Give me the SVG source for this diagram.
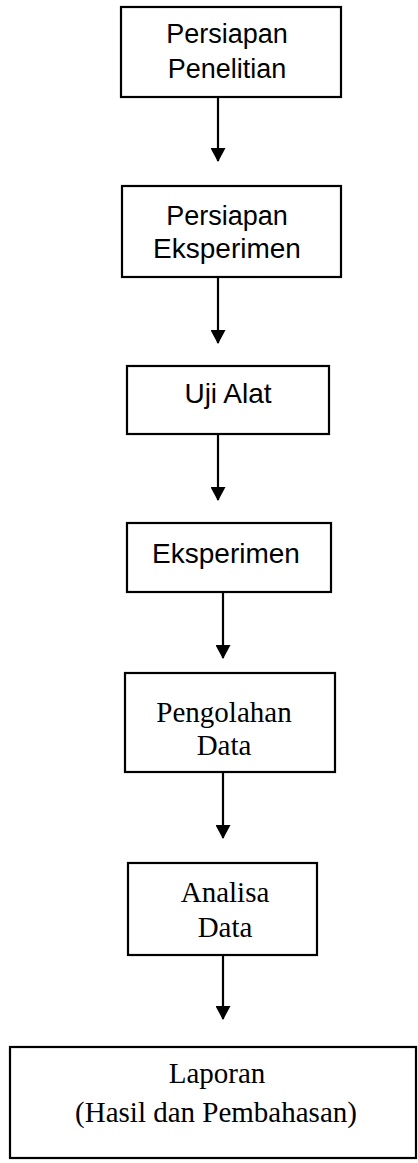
<svg xmlns="http://www.w3.org/2000/svg" width="418" height="1163" viewBox="0 0 418 1163">
<style>
.box{fill:#fff;stroke:#000;stroke-width:2.2}
.sans{font-family:"Liberation Sans",Arial,sans-serif;font-size:27px;fill:#000;text-anchor:middle}
.big{font-size:28px}
.serif{font-family:"Liberation Serif","Times New Roman",serif;font-size:29px;fill:#000;text-anchor:middle}
.conn{stroke:#000;stroke-width:2.2;fill:none}
</style>
<defs>
<marker id="ah" markerUnits="userSpaceOnUse" markerWidth="14" markerHeight="15" viewBox="0 0 14 15" refX="13" refY="7.5" orient="auto">
<path d="M0,0 L14,7.5 L0,15 z" fill="#000"/>
</marker>
</defs>
<rect width="418" height="1163" fill="#fff"/>
<g id="connectors">
<line class="conn" x1="218" y1="97" x2="218" y2="161" marker-end="url(#ah)"/>
<line class="conn" x1="218" y1="277" x2="218" y2="343" marker-end="url(#ah)"/>
<line class="conn" x1="218" y1="434" x2="218" y2="500" marker-end="url(#ah)"/>
<line class="conn" x1="223" y1="592" x2="223" y2="658" marker-end="url(#ah)"/>
<line class="conn" x1="223" y1="772" x2="223" y2="838" marker-end="url(#ah)"/>
<line class="conn" x1="223" y1="955" x2="223" y2="1019" marker-end="url(#ah)"/>
</g>
<g id="n1">
<rect class="box" x="121" y="7" width="220" height="90"/>
<text class="sans" x="227" y="43">Persiapan</text>
<text class="sans" x="227" y="78">Penelitian</text>
</g>
<g id="n2">
<rect class="box" x="122" y="186" width="219" height="91"/>
<text class="sans" x="227" y="225">Persiapan</text>
<text class="sans big" x="227" y="258">Eksperimen</text>
</g>
<g id="n3">
<rect class="box" x="127" y="366" width="202" height="68"/>
<text class="sans big" x="228" y="403">Uji Alat</text>
</g>
<g id="n4">
<rect class="box" x="127" y="523" width="204" height="69"/>
<text class="sans big" x="226" y="563">Eksperimen</text>
</g>
<g id="n5">
<rect class="box" x="125" y="673" width="210" height="99"/>
<text class="serif" x="224" y="722">Pengolahan</text>
<text class="serif" x="224" y="755">Data</text>
</g>
<g id="n6">
<rect class="box" x="128" y="863" width="189" height="92"/>
<text class="serif" x="225" y="902">Analisa</text>
<text class="serif" x="225" y="937">Data</text>
</g>
<g id="n7">
<rect class="box" x="10" y="1047" width="406" height="111"/>
<text class="serif" x="217" y="1083">Laporan</text>
<text class="serif" x="216" y="1122">(Hasil dan Pembahasan)</text>
</g>
</svg>
